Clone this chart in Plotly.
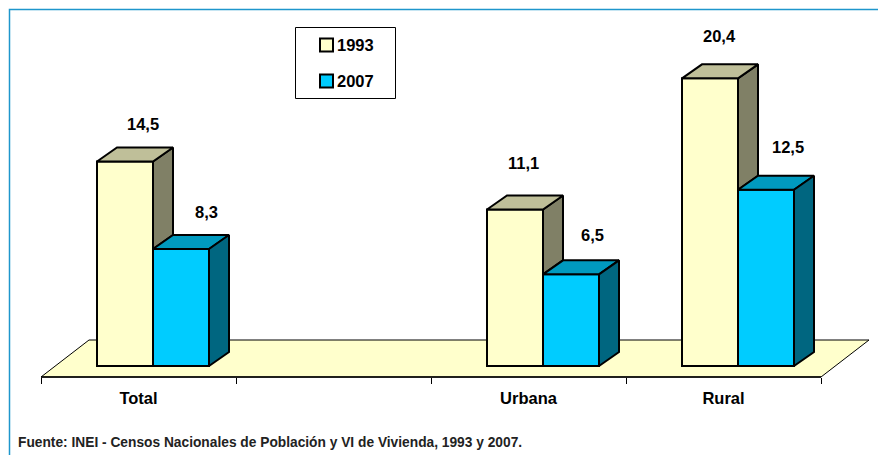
import plotly.graph_objects as go

categories = ["Total", "Urbana", "Rural"]
category_slots = [0, 2, 3]
series_names = ["1993", "2007"]
values_1993 = [14.5, 11.1, 20.4]
values_2007 = [8.3, 6.5, 12.5]
labels_1993 = ["14,5", "11,1", "20,4"]
labels_2007 = ["8,3", "6,5", "12,5"]
source_text = "Fuente: INEI - Censos Nacionales de Población y VI de Vivienda, 1993 y 2007."

W, H = 878, 455
PX_PER_SLOT = 195.0
PX_PER_UNIT = 14.1
X0_PX, BASE_PX = 41.0, 366.0
AXIS_PX = 377.0
DEPTH_X = 20 / PX_PER_SLOT
DEPTH_Y = 14 / PX_PER_UNIT
BAR_W = 56 / PX_PER_SLOT
SHIFT = (153 - X0_PX) / PX_PER_SLOT

FONT = "Liberation Sans, Arial, sans-serif"
TEXT_SIZE = 16.5
COL_1993 = ("#FFFFCC", "#BFBF99", "#808066")
COL_2007 = ("#00CCFF", "#009ABF", "#006680")

xp = lambda px: (px - X0_PX) / PX_PER_SLOT
yp = lambda py: (BASE_PX - py) / PX_PER_UNIT

centers = [s + SHIFT for s in category_slots]
fig = go.Figure()

for name, vals, col in [
    (series_names[0], values_1993, COL_1993),
    (series_names[1], values_2007, COL_2007),
]:
    fig.add_trace(go.Bar(
        x=centers, y=vals, name=name,
        marker=dict(color=col[0], line=dict(color="black", width=2)),
        hoverinfo="skip", showlegend=False,
    ))


def faces(lefts, tops, bottoms):
    top_x, top_y, side_x, side_y = [], [], [], []
    for l, t, b in zip(lefts, tops, bottoms):
        r = l + BAR_W
        top_x += [l, l + DEPTH_X, r + DEPTH_X, r, l, None]
        top_y += [t, t + DEPTH_Y, t + DEPTH_Y, t, t, None]
        side_x += [r, r + DEPTH_X, r + DEPTH_X, r, r, None]
        side_y += [t, t + DEPTH_Y, b + DEPTH_Y, b, t, None]
    return top_x, top_y, side_x, side_y


def poly(x, y, color):
    fig.add_trace(go.Scatter(
        x=x, y=y, mode="lines", fill="toself", fillcolor=color,
        line=dict(color="black", width=2), showlegend=False, hoverinfo="skip",
    ))


# the 1993 side is hidden below the top of the 2007 bar in front of it
t_x, t_y, s_x, s_y = faces([c - BAR_W for c in centers], values_1993, values_2007)
poly(s_x, s_y, COL_1993[2])
poly(t_x, t_y, COL_1993[1])
t_x, t_y, s_x, s_y = faces(centers, values_2007, [0] * len(centers))
poly(t_x, t_y, COL_2007[1])
poly(s_x, s_y, COL_2007[2])

# floor
floor = [(41, AXIS_PX), (821, AXIS_PX), (869, 340), (89, 340)]
path = "M" + " L".join(f"{xp(a)},{yp(b)}" for a, b in floor) + " Z"
fig.add_shape(type="path", path=path, xref="x", yref="y", layer="below",
              fillcolor="#FFFFCC", line=dict(color="black", width=1))
fig.add_shape(type="line", xref="x", yref="y", x0=xp(41), x1=xp(821),
              y0=yp(AXIS_PX), y1=yp(AXIS_PX), layer="below",
              line=dict(color="black", width=1.5))

# hand-placed data labels: offsets from the bar's top centre, in pixels
label_dx_1993 = [18, 8, 9]
label_dy_1993 = [38, 46, 42]
label_dx_2007 = [25, 21, 22]
label_dy_2007 = [37, 39, 43]
bold = dict(family=FONT, size=TEXT_SIZE, color="black", weight="bold")
for lefts, vals, labs, dxs, dys in [
    ([c - BAR_W / 2 for c in centers], values_1993, labels_1993, label_dx_1993, label_dy_1993),
    ([c + BAR_W / 2 for c in centers], values_2007, labels_2007, label_dx_2007, label_dy_2007),
]:
    for x, v, t, dx, dy in zip(lefts, vals, labs, dxs, dys):
        fig.add_annotation(x=x, y=v, text=t, showarrow=False, xshift=dx, yshift=dy, font=bold)

fig.add_annotation(xref="paper", yref="paper", x=18 / W, y=1 - 442 / H, xanchor="left",
                   yanchor="middle", text=source_text, showarrow=False, xshift=-2,
                   font=dict(family=FONT, size=13.75, color="#222222", weight="bold"))

# frame
px_x = lambda a: a / W
px_y = lambda b: 1 - b / H
fig.add_shape(type="path", xref="paper", yref="paper", layer="above",
              path=f"M{px_x(9.5)},0 L{px_x(9.5)},{px_y(9.5)} L1,{px_y(9.5)}",
              line=dict(color="#1E96CC", width=1.5))

# legend box
fig.add_shape(type="rect", xref="paper", yref="paper", layer="above",
              x0=px_x(295.5), x1=px_x(395.5), y0=px_y(98.5), y1=px_y(27.5),
              fillcolor="white", line=dict(color="black", width=1))
for name, col, cy in [(series_names[0], COL_1993, 45), (series_names[1], COL_2007, 81)]:
    fig.add_shape(type="rect", xref="paper", yref="paper", layer="above",
                  x0=px_x(320), x1=px_x(333), y0=px_y(cy + 6.5), y1=px_y(cy - 6.5),
                  fillcolor=col[0], line=dict(color="black", width=2))
    fig.add_annotation(xref="paper", yref="paper", x=px_x(337), y=px_y(cy), xanchor="left",
                       yanchor="middle", xshift=-2, text=name, showarrow=False, font=bold)

fig.update_layout(
    width=W, height=H, margin=dict(l=0, r=0, t=0, b=0, pad=0),
    paper_bgcolor="white", plot_bgcolor="rgba(0,0,0,0)",
    barmode="group", bargap=1 - 2 * BAR_W, bargroupgap=0,
    font=bold,
    xaxis=dict(
        range=[xp(0), xp(W)], anchor="free", position=1 - AXIS_PX / H,
        domain=[0, 1], showgrid=False, zeroline=False, showline=False,
        tickmode="array", tickvals=[s + 0.5 for s in category_slots], ticktext=categories,
        ticks="", ticklabelstandoff=9, tickangle=0,
        tickfont=bold,
        minor=dict(tickmode="array", tickvals=[0, 1, 2, 3, 4], ticks="outside",
                   ticklen=6, tickwidth=1, tickcolor="black", showgrid=False),
    ),
    yaxis=dict(range=[yp(H), yp(0)], domain=[0, 1], visible=False),
    showlegend=False,
)

fig.write_html("out.html", config=dict(displayModeBar=False),
               post_script="document.body.style.margin='0';")
